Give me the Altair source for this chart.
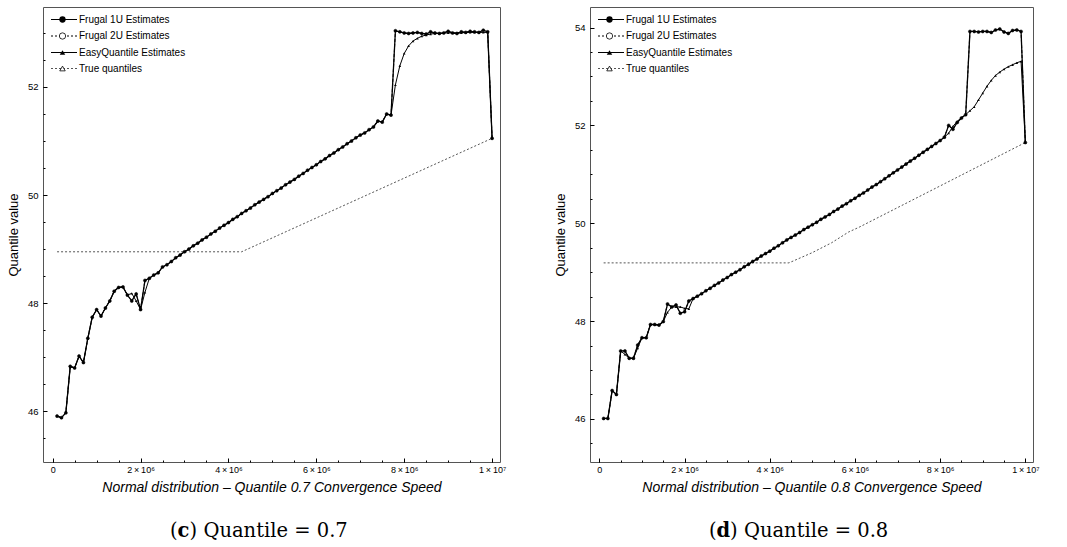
import altair as alt
import pandas as pd

# sample positions (in millions of observations)
SAMPLE_MILLIONS = [round(0.1 * i, 1) for i in range(1, 101)]

# ---------------- Quantile 0.7 ----------------
frugal1u_07 = [
    45.91, 45.88, 45.97, 46.83, 46.80, 47.02, 46.90, 47.35, 47.74, 47.88,
    47.76, 47.91, 48.04, 48.22, 48.29, 48.30, 48.15, 48.04, 48.17, 47.88,
    48.42, 48.46, 48.52, 48.56, 48.67, 48.71, 48.77, 48.84, 48.89, 48.95,
    49.00, 49.06, 49.11, 49.17, 49.22, 49.28, 49.33, 49.39, 49.44, 49.49,
    49.55, 49.60, 49.66, 49.71, 49.76, 49.82, 49.87, 49.92, 49.97, 50.03,
    50.08, 50.13, 50.19, 50.24, 50.29, 50.35, 50.40, 50.46, 50.51, 50.56,
    50.62, 50.67, 50.73, 50.78, 50.84, 50.89, 50.95, 51.00, 51.06, 51.11,
    51.15, 51.21, 51.26, 51.37, 51.35, 51.50, 51.48, 53.04, 53.02, 53.00,
    52.99, 53.00, 53.01, 52.99, 52.98, 53.02, 53.00, 52.99, 53.00, 53.03,
    53.00, 52.99, 53.02, 53.01, 53.03, 53.02, 53.01, 53.05, 53.02, 51.05,
]
frugal2u_07 = [
    45.91, 45.88, 45.97, 46.83, 46.80, 47.02, 46.90, 47.35, 47.74, 47.88,
    47.76, 47.91, 48.04, 48.22, 48.29, 48.30, 48.15, 48.04, 48.17, 47.88,
    48.42, 48.46, 48.52, 48.56, 48.67, 48.71, 48.77, 48.84, 48.89, 48.95,
    49.00, 49.06, 49.11, 49.17, 49.22, 49.28, 49.33, 49.39, 49.44, 49.49,
    49.55, 49.60, 49.66, 49.71, 49.76, 49.82, 49.87, 49.92, 49.97, 50.03,
    50.08, 50.13, 50.19, 50.24, 50.29, 50.35, 50.40, 50.46, 50.51, 50.56,
    50.62, 50.67, 50.73, 50.78, 50.84, 50.89, 50.95, 51.00, 51.06, 51.11,
    51.15, 51.21, 51.26, 51.37, 51.35, 51.50, 51.48, 53.04, 53.02, 53.00,
    52.99, 53.00, 53.01, 52.99, 52.98, 53.02, 53.00, 52.99, 53.00, 53.03,
    53.00, 52.99, 53.02, 53.01, 53.03, 53.02, 53.01, 53.05, 53.02, 51.05,
]
easyq_07 = [
    45.91, 45.88, 45.97, 46.83, 46.80, 47.02, 46.90, 47.35, 47.74, 47.88,
    47.76, 47.91, 48.04, 48.22, 48.29, 48.30, 48.15, 48.18, 48.04, 47.88,
    48.20, 48.46, 48.52, 48.56, 48.67, 48.71, 48.77, 48.84, 48.89, 48.95,
    49.00, 49.06, 49.11, 49.17, 49.22, 49.28, 49.33, 49.39, 49.44, 49.49,
    49.55, 49.60, 49.66, 49.71, 49.76, 49.82, 49.87, 49.92, 49.97, 50.03,
    50.08, 50.13, 50.19, 50.24, 50.29, 50.35, 50.40, 50.46, 50.51, 50.56,
    50.62, 50.67, 50.73, 50.78, 50.84, 50.89, 50.95, 51.00, 51.06, 51.11,
    51.15, 51.21, 51.26, 51.37, 51.35, 51.50, 51.48, 52.04, 52.39, 52.62,
    52.76, 52.85, 52.90, 52.94, 52.96, 52.98, 52.99, 52.99, 53.00, 53.00,
    53.00, 53.00, 53.00, 53.01, 53.01, 53.01, 53.01, 53.01, 53.01, 51.05,
]
true_x_07 = [0.1, 4.3, 10.0]
true_y_07 = [48.95, 48.95, 51.05]

# ---------------- Quantile 0.8 ----------------
frugal1u_08 = [
    46.01, 46.01, 46.58, 46.50, 47.39, 47.39, 47.24, 47.24, 47.51, 47.66,
    47.66, 47.93, 47.93, 47.92, 47.99, 48.35, 48.29, 48.33, 48.16, 48.19,
    48.41, 48.46, 48.51, 48.56, 48.62, 48.67, 48.73, 48.78, 48.84, 48.89,
    48.95, 49.00, 49.05, 49.11, 49.16, 49.22, 49.27, 49.33, 49.38, 49.43,
    49.49, 49.54, 49.60, 49.66, 49.71, 49.76, 49.81, 49.87, 49.92, 49.97,
    50.02, 50.08, 50.13, 50.18, 50.24, 50.29, 50.35, 50.40, 50.46, 50.51,
    50.57, 50.62, 50.68, 50.74, 50.79, 50.85, 50.91, 50.97, 51.03, 51.09,
    51.15, 51.21, 51.27, 51.33, 51.39, 51.45, 51.51, 51.57, 51.63, 51.69,
    51.76, 52.00, 51.92, 52.06, 52.15, 52.22, 53.92, 53.92, 53.91, 53.92,
    53.92, 53.90, 53.95, 53.97, 53.91, 53.88, 53.94, 53.95, 53.92, 51.65,
]
frugal2u_08 = [
    46.01, 46.01, 46.58, 46.50, 47.39, 47.39, 47.24, 47.24, 47.51, 47.66,
    47.66, 47.93, 47.93, 47.92, 47.99, 48.35, 48.29, 48.33, 48.16, 48.19,
    48.41, 48.46, 48.51, 48.56, 48.62, 48.67, 48.73, 48.78, 48.84, 48.89,
    48.95, 49.00, 49.05, 49.11, 49.16, 49.22, 49.27, 49.33, 49.38, 49.43,
    49.49, 49.54, 49.60, 49.66, 49.71, 49.76, 49.81, 49.87, 49.92, 49.97,
    50.02, 50.08, 50.13, 50.18, 50.24, 50.29, 50.35, 50.40, 50.46, 50.51,
    50.57, 50.62, 50.68, 50.74, 50.79, 50.85, 50.91, 50.97, 51.03, 51.09,
    51.15, 51.21, 51.27, 51.33, 51.39, 51.45, 51.51, 51.57, 51.63, 51.69,
    51.76, 52.00, 51.92, 52.06, 52.15, 52.22, 53.92, 53.92, 53.91, 53.92,
    53.92, 53.90, 53.95, 53.97, 53.91, 53.88, 53.94, 53.95, 53.92, 51.65,
]
easyq_08 = [
    46.01, 46.01, 46.58, 46.50, 47.39, 47.32, 47.24, 47.24, 47.45, 47.66,
    47.66, 47.93, 47.93, 47.92, 47.99, 48.18, 48.29, 48.29, 48.29, 48.26,
    48.25, 48.46, 48.51, 48.56, 48.62, 48.67, 48.73, 48.78, 48.84, 48.89,
    48.95, 49.00, 49.05, 49.11, 49.16, 49.22, 49.27, 49.33, 49.38, 49.43,
    49.49, 49.54, 49.60, 49.66, 49.71, 49.76, 49.81, 49.87, 49.92, 49.97,
    50.02, 50.08, 50.13, 50.18, 50.24, 50.29, 50.35, 50.40, 50.46, 50.51,
    50.57, 50.62, 50.68, 50.74, 50.79, 50.85, 50.91, 50.97, 51.03, 51.09,
    51.15, 51.21, 51.27, 51.33, 51.39, 51.45, 51.51, 51.57, 51.63, 51.69,
    51.76, 51.84, 51.98, 52.08, 52.16, 52.22, 52.30, 52.38, 52.52, 52.66,
    52.80, 52.92, 53.02, 53.09, 53.15, 53.20, 53.24, 53.28, 53.31, 51.65,
]
true_x_08 = [0.1, 4.45, 5.0, 5.45, 5.85, 6.1, 10.0]
true_y_08 = [49.19, 49.19, 49.40, 49.60, 49.82, 49.92, 51.65]

legend_labels = ["Frugal 1U Estimates", "Frugal 2U Estimates",
                 "EasyQuantile Estimates", "True quantiles"]

x_major = [0, 2e6, 4e6, 6e6, 8e6, 1e7]
x_minor = [i * 5e5 for i in range(21)]

FONT = "Liberation Sans"
H = 455
CAP_SIZE = 19.5


def series_df(vals):
    xs = [m * 1e6 for m in SAMPLE_MILLIONS[: len(vals)]]
    return pd.DataFrame({"x": xs, "v": vals})


def make_panel(f1, f2, eq, tx, ty, ydomain, ymajor, width, xtitle,
               letter, rest, cap_left, letter_w):
    xsc = alt.Scale(domain=[-0.22e6, 10.18e6], nice=False, zero=False)
    ysc = alt.Scale(domain=ydomain, nice=False, zero=False)
    yminor = [v / 2 for v in range(int(ydomain[0] * 2) + 1, int(ydomain[1] * 2) + 1)]

    x_major_axis = alt.Axis(
        orient="bottom", values=x_major, tickSize=4, offset=-4, domain=False,
        labelPadding=3, labelFontSize=9, labelFont=FONT, labelColor="black",
        labelExpr="datum.value == 0 ? '0' : (datum.value >= 9999999 ? '1\u2009\u00d7\u200910\u2077' : format(datum.value / 1000000, 'd') + '\u2009\u00d7\u200910\u2076')",
        title=xtitle, titleFont=FONT, titleFontSize=14, titleFontStyle="italic",
        titleFontWeight="normal", titleColor="black", titlePadding=6,
        grid=False, tickColor="black",
    )
    x_minor_axis = alt.Axis(
        orient="bottom", values=x_minor, tickSize=2, offset=-2, domain=False,
        labels=False, title=None, grid=False, tickColor="black",
    )
    y_major_axis = alt.Axis(
        orient="left", values=ymajor, tickSize=4, offset=-4, domain=False,
        labelPadding=5, labelFontSize=9.5, labelFont=FONT, labelColor="black",
        format="d",
        title="Quantile value", titleFont=FONT, titleFontSize=13,
        titleFontWeight="normal", titleColor="black", titlePadding=7,
        grid=False, tickColor="black",
    )
    y_minor_axis = alt.Axis(
        orient="left", values=yminor, tickSize=2, offset=-2, domain=False,
        labels=False, title=None, grid=False, tickColor="black",
    )

    def enc(chart, xa=None, ya=None):
        return chart.encode(
            x=alt.X("x:Q", scale=xsc, axis=xa),
            y=alt.Y("v:Q", scale=ysc, axis=ya),
        )

    true_line = enc(alt.Chart(pd.DataFrame({"x": [v * 1e6 for v in tx], "v": ty}))
                    .mark_line(color="#555555", strokeDash=[2, 2], strokeWidth=1))
    eq_line = enc(alt.Chart(series_df(eq)).mark_line(color="black", strokeWidth=1),
                  x_minor_axis, y_minor_axis)
    eq_pts = enc(alt.Chart(series_df(eq)).mark_point(shape="triangle-up", filled=True,
                                                     size=7, color="black", opacity=1))
    f2_line = enc(alt.Chart(series_df(f2)).mark_line(color="black", strokeWidth=1,
                                                     strokeDash=[3, 2]))
    f2_pts = enc(alt.Chart(series_df(f2)).mark_point(shape="circle", filled=False,
                                                     size=9, color="black", strokeWidth=0.8))
    f1_line = enc(alt.Chart(series_df(f1)).mark_line(color="black", strokeWidth=1.3),
                  x_major_axis, y_major_axis)
    f1_pts = enc(alt.Chart(series_df(f1)).mark_point(shape="circle", filled=True,
                                                     size=9, color="black", opacity=1))

    one = pd.DataFrame({"a": [0]})
    leg = []
    rows_y = [12.5, 29, 45.5, 61.5]
    dashes = [None, [2, 2], None, [2, 2]]
    shapes = ["circle", "circle", "triangle-up", "triangle-up"]
    filled = [True, False, True, False]
    sizes = [40, 40, 30, 30]
    colors = ["black", "black", "black", "#555555"]
    for i, lab in enumerate(legend_labels):
        rk = dict(color=colors[i], strokeWidth=1)
        if dashes[i]:
            rk["strokeDash"] = dashes[i]
        leg.append(alt.Chart(one).mark_rule(**rk).encode(
            x=alt.value(8), x2=alt.value(34), y=alt.value(rows_y[i])))
        if filled[i]:
            pk = dict(shape=shapes[i], filled=True, size=sizes[i], color="black", opacity=1)
        else:
            pk = dict(shape=shapes[i], filled=False, fill="white", fillOpacity=1,
                      size=sizes[i], stroke="black", strokeWidth=0.8, opacity=1)
        leg.append(alt.Chart(one).mark_point(**pk).encode(
            x=alt.value(19.5), y=alt.value(rows_y[i])))
        leg.append(alt.Chart(one).mark_text(align="left", baseline="middle", font=FONT,
                                            fontSize=10, color="black").encode(
            x=alt.value(36), y=alt.value(rows_y[i]), text=alt.value(lab)))

    cap_y = H + 69
    paren_w = 7.6
    caps = [
        alt.Chart(one).mark_text(align="left", baseline="middle", font="DejaVu Serif",
                                 fontSize=CAP_SIZE, color="black").encode(
            x=alt.value(cap_left), y=alt.value(cap_y), text=alt.value("(")),
        alt.Chart(one).mark_text(align="left", baseline="middle", font="DejaVu Serif",
                                 fontSize=CAP_SIZE, fontWeight="bold", color="black").encode(
            x=alt.value(cap_left + paren_w), y=alt.value(cap_y), text=alt.value(letter)),
        alt.Chart(one).mark_text(align="left", baseline="middle", font="DejaVu Serif",
                                 fontSize=CAP_SIZE, color="black").encode(
            x=alt.value(cap_left + paren_w + letter_w), y=alt.value(cap_y), text=alt.value(rest)),
    ]

    return alt.layer(
        f1_line, true_line, eq_line, eq_pts, f2_line, f2_pts, f1_pts, *leg, *caps
    ).resolve_axis(x="independent", y="independent").properties(width=width, height=H)


left = make_panel(frugal1u_07, frugal2u_07, easyq_07, true_x_07, true_y_07,
                  [45.06, 53.48], [46, 48, 50, 52], 457,
                  "Normal distribution \u2013 Quantile 0.7 Convergence Speed",
                  "c", ") Quantile = 0.7", 127, 12)
right = make_panel(frugal1u_08, frugal2u_08, easyq_08, true_x_08, true_y_08,
                   [45.12, 54.42], [46, 48, 50, 52, 54], 443,
                   "Normal distribution \u2013 Quantile 0.8 Convergence Speed",
                   "d", ") Quantile = 0.8", 119, 13.5)

chart = alt.hconcat(left, right, spacing=46).properties(
    padding={"left": 6, "top": 6, "right": 5, "bottom": 2},
    background="white",
).configure_view(stroke="#555555", strokeWidth=1)

chart.save("out.html", embed_options={"renderer": "svg", "actions": False})
